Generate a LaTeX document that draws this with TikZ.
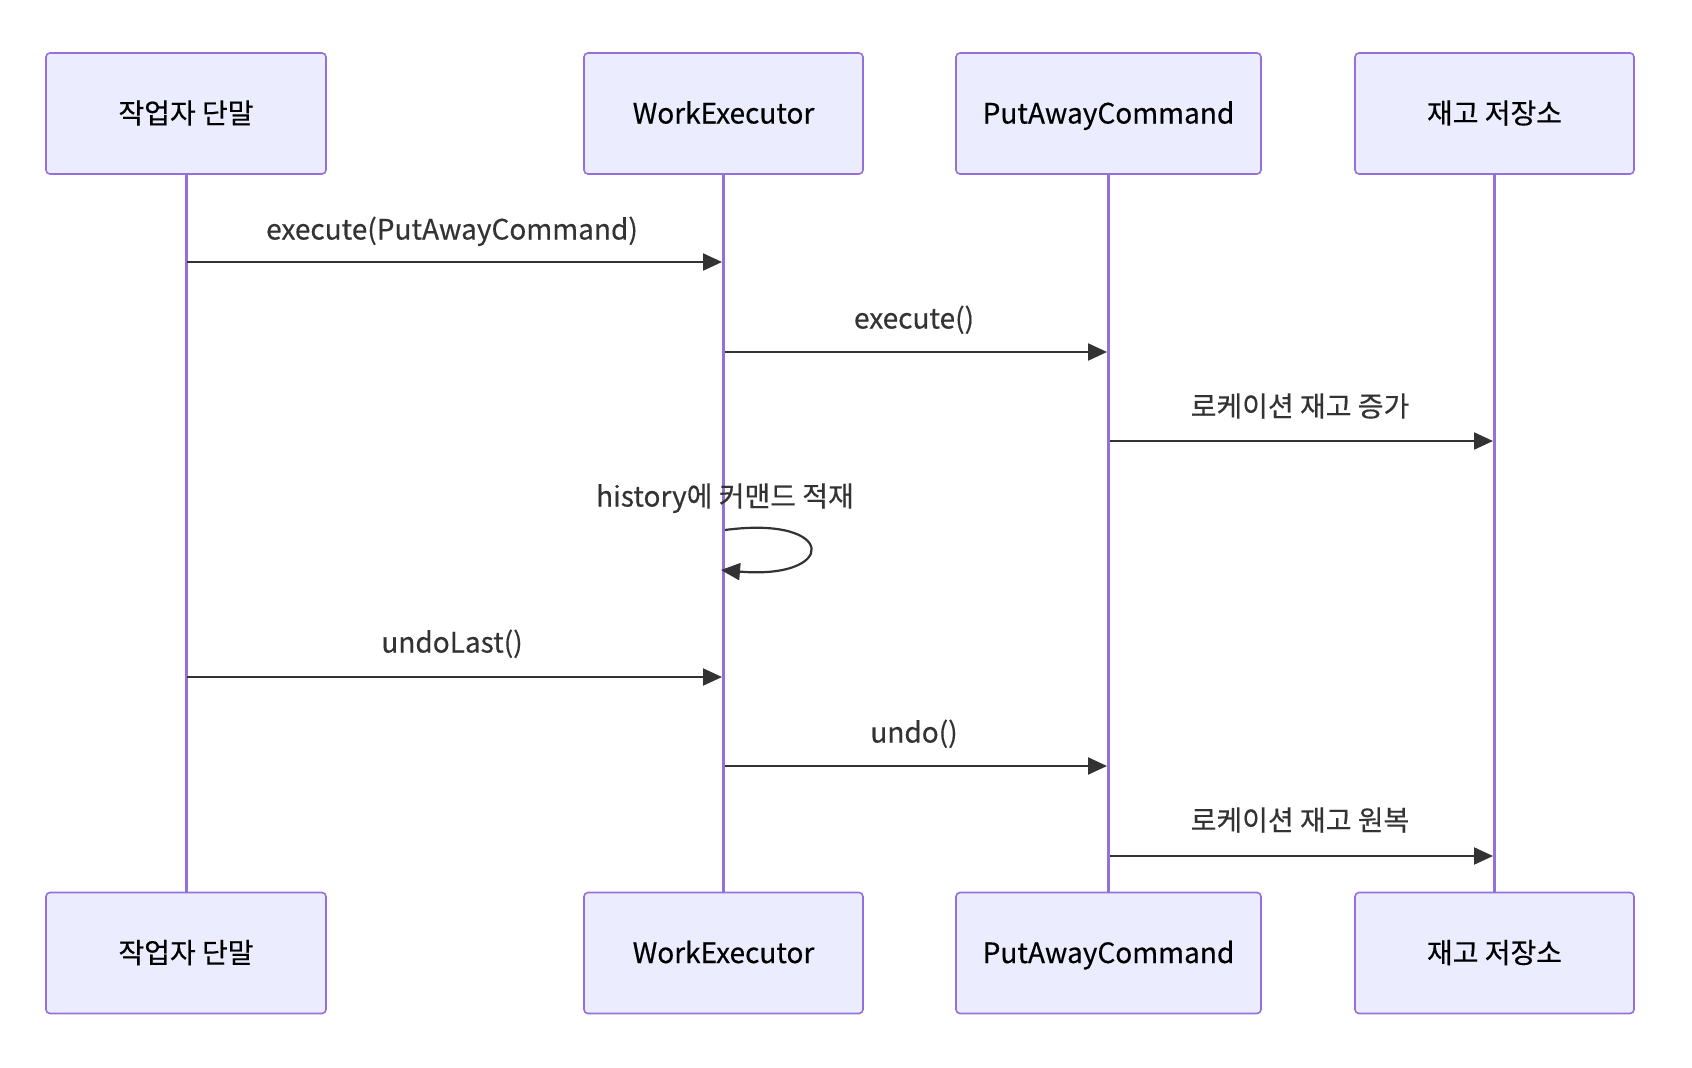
\documentclass[tikz,border=0pt]{standalone}
\usepackage{fontspec}
\setmainfont{Noto Sans CJK KR}
\newfontfamily\medfont{Noto Sans CJK KR}[BoldFont={Noto Sans CJK KR}, BoldFeatures={FakeBold=0.4}]
\usetikzlibrary{arrows.meta}
\definecolor{actfill}{HTML}{ECECFF}
\definecolor{actline}{HTML}{9370DB}
\definecolor{msgcol}{HTML}{333333}
\tikzset{
  actor/.style={draw=actline, fill=actfill, line width=1.6pt, rounded corners=4pt,
    minimum height=121pt, inner sep=0pt, text height=21pt, text depth=1pt,
    font=\fontsize{28}{33}\medfont\bfseries, text=black},
  lifeline/.style={draw=actline, line width=3pt},
  msg/.style={draw=msgcol, line width=2.2pt, -{Triangle[length=19pt,width=17pt]}},
  msglabel/.style={font=\fontsize{28}{33}\medfont\bfseries, text=msgcol, inner sep=0pt,
    text height=21pt, text depth=6pt},
}
\begin{document}
\begin{tikzpicture}[x=1pt,y=-1pt]
\useasboundingbox (0,0) rectangle (1692,1068);
% top actors
\node[actor, minimum width=280pt] (t1) at (186,113.5) {작업자 단말};
\node[actor, minimum width=279pt] (t2) at (723.5,113.5) {WorkExecutor};
\node[actor, minimum width=305pt] (t3) at (1108.5,113.5) {PutAwayCommand};
\node[actor, minimum width=279pt] (t4) at (1494.5,113.5) {재고 저장소};
% bottom actors
\node[actor, minimum width=280pt] (b1) at (186,953) {작업자 단말};
\node[actor, minimum width=279pt] (b2) at (723.5,953) {WorkExecutor};
\node[actor, minimum width=305pt] (b3) at (1108.5,953) {PutAwayCommand};
\node[actor, minimum width=279pt] (b4) at (1494.5,953) {재고 저장소};
% lifelines
\draw[lifeline] (t1.south) -- (b1.north);
\draw[lifeline] (t2.south) -- (b2.north);
\draw[lifeline] (t3.south) -- (b3.north);
\draw[lifeline] (t4.south) -- (b4.north);
% message anchor points
\coordinate (m1s) at (187,262); \coordinate (m1e) at (722,262);
\coordinate (m2s) at (725,352); \coordinate (m2e) at (1107,352);
\coordinate (m3s) at (1110,441); \coordinate (m3e) at (1493,441);
\coordinate (m4s) at (187,677); \coordinate (m4e) at (722,677);
\coordinate (m5s) at (725,766); \coordinate (m5e) at (1107,766);
\coordinate (m6s) at (1110,856); \coordinate (m6e) at (1493,856);
\coordinate (ls) at (725,530); \coordinate (le) at (721,570);
% messages
\draw[msg] (m1s) -- (m1e);
\node[msglabel] (l1) at (452,232) {execute(PutAwayCommand)};
\draw[msg] (m2s) -- (m2e);
\node[msglabel] (l2) at (914,321) {execute()};
\draw[msg] (m3s) -- (m3e);
\node[msglabel] (l3) at (1300,409) {로케이션 재고 증가};
\node[msglabel] (l4) at (725,499) {history에 커맨드 적재};
\draw[msg] (ls) .. controls (838,515) and (838,580) .. (le);
\draw[msg] (m4s) -- (m4e);
\node[msglabel] (l5) at (452,645) {undoLast()};
\draw[msg] (m5s) -- (m5e);
\node[msglabel] (l6) at (914,735) {undo()};
\draw[msg] (m6s) -- (m6e);
\node[msglabel] (l7) at (1300,823) {로케이션 재고 원복};
\end{tikzpicture}
\end{document}
